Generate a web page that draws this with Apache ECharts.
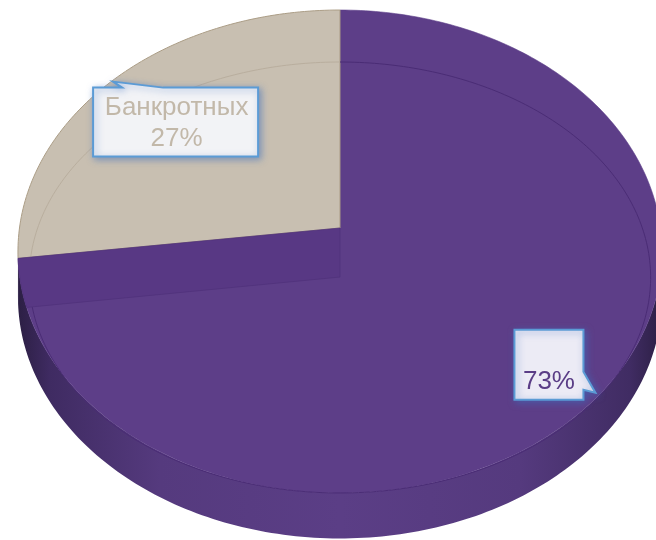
<!DOCTYPE html>
<html><head><meta charset="utf-8">
<script src="https://cdn.jsdelivr.net/npm/echarts@6/dist/echarts.min.js"></script>
<style>html,body{margin:0;padding:0;background:#fff}#c{width:656px;height:540px}</style>
</head><body><div id="c"></div><script>
// ---- data ----
const categories = ['Небанкротных', 'Банкротных'];
const values = [73, 27];
const showName = [false, true];

// ---- layout / style ----
const topColors = ['#5d3e88', '#c8bfb1'];
const edgeColors = ['#5d3e88', '#ab9d86'];
const innerColors = ['#4a2c75', '#b9ae9e'];
const textColors = ['#5a3d86', '#c2b8a9'];
const boxFills = ['#ecebf5', '#f2f3f6'];

const chart = echarts.init(document.getElementById('c'), null, {renderer: 'canvas'});
const total = values.reduce((a, b) => a + b, 0);
const starts = [], ends = [];
let acc = 0;
values.forEach(v => { starts.push(acc / total * 360); acc += v; ends.push(acc / total * 360); });

const PERSP = 0.0973;
function proj(r, ang, h) {
  const t = ang * Math.PI / 180;
  const u = r * Math.sin(t), v = r * Math.cos(t);
  const d = 1 + PERSP * v;
  return [u / d, v / d - (h || 0)];
}
const SIDE = 0.19, WALL = 0.205;
const VIS1 = Math.acos(-PERSP) * 180 / Math.PI, VIS2 = 360 - VIS1;
function arc(a1, a2, r, h, api, xf) {
  const pts = [];
  const n = Math.max(2, Math.ceil(Math.abs(a2 - a1)));
  for (let i = 0; i <= n; i++) {
    const a = a1 + (a2 - a1) * i / n;
    let p = proj(r, a, h);
    if (xf) p = xf(p);
    pts.push(api.coord(p));
  }
  return pts;
}
const innerXf = p => [p[0], p[1] * 0.9253 - 0.1223];
const seriesData = values.map((v, i) => [i, v]);
const FONT = '26px "Liberation Sans", Arial, sans-serif';

const base = {type: 'custom', coordinateSystem: 'cartesian2d', data: seriesData, silent: true, animation: false, encode: {x: -1, y: -1}};

const option = {
  animation: false,
  grid: {left: 0, right: 0, top: 0, bottom: 0},
  xAxis: {type: 'value', min: -1.0608, max: 0.986, show: false},
  yAxis: {type: 'value', min: -1.3043, max: 0.9532, show: false},
  series: [
    Object.assign({}, base, {z: 1, renderItem(params, api) {
      const i = params.dataIndex;
      const s = Math.max(starts[i], VIS1), e = Math.min(ends[i], VIS2);
      if (e - s < 0.01) return null;
      const pts = arc(s, e, 1, 0, api).concat(arc(e, s, 1, SIDE, api));
      const xL = api.coord([-1.005, 0])[0], xR = api.coord([1.005, 0])[0];
      return {type: 'polygon', shape: {points: pts}, style: {
        fill: {type: 'linear', x: xL, y: 0, x2: xR, y2: 0, global: true, colorStops: [
          {offset: 0, color: '#2c1f44'}, {offset: 0.05, color: '#3f2b62'}, {offset: 0.22, color: '#553a7e'},
          {offset: 0.5, color: '#5b3e86'}, {offset: 0.78, color: '#553a7e'}, {offset: 0.95, color: '#402c63'},
          {offset: 1, color: '#2c1f44'}]},
        stroke: null}};
    }}),
    Object.assign({}, base, {z: 2, renderItem(params, api) {
      const i = params.dataIndex;
      const pts = [api.coord(proj(0, 0, 0))].concat(arc(starts[i], ends[i], 1, 0, api));
      return {type: 'polygon', shape: {points: pts}, style: {fill: topColors[i], stroke: edgeColors[i], lineWidth: i === 1 ? 1 : 0.6}};
    }}),
    Object.assign({}, base, {z: 3, renderItem(params, api) {
      const i = params.dataIndex;
      const pts = arc(starts[i], ends[i], 0.965, 0, api, innerXf);
      return {type: 'polyline', shape: {points: pts}, style: {fill: null, stroke: innerColors[i], lineWidth: 1}};
    }}),
    Object.assign({}, base, {z: 4, renderItem(params, api) {
      const i = params.dataIndex;
      if (i !== 0) return null;
      const aEnd = ends[i];
      const target = proj(1, aEnd, 0)[1] - WALL;
      let lo = Math.max(180, aEnd - 90), hi = aEnd;
      for (let k = 0; k < 40; k++) {
        const mid = (lo + hi) / 2;
        if (proj(1, mid, 0)[1] > target) hi = mid; else lo = mid;
      }
      const pts = [api.coord(proj(0, 0, 0))].concat(arc(aEnd, lo, 1, 0, api)).concat([api.coord(proj(0, 0, WALL))]);
      return {type: 'polygon', shape: {points: pts}, style: {fill: '#583884', stroke: '#4f307a', lineWidth: 0.7}};
    }}),
    Object.assign({}, base, {z: 5, renderItem(params, api) {
      const i = params.dataIndex;
      const mid = (starts[i] + ends[i]) / 2;
      const pct = Math.round(values[i] / total * 100) + '%';
      const text = showName[i] ? categories[i] + '\n' + pct : pct;
      const shadow = {shadowBlur: 7, shadowColor: 'rgba(60,110,190,0.55)', shadowOffsetX: 2, shadowOffsetY: 2};
      if (i === 1) {
        const [ax, ay] = api.coord(proj(0.6, mid, 0));
        const L = ax - 108, T = ay - 49, R = ax + 57, B = ay + 20;
        const poly = [[L, T], [L + 29, T], [L + 20, T - 6], [L + 70, T], [R, T], [R, B], [L, B]];
        return {type: 'group', children: [
          {type: 'polygon', shape: {points: poly}, style: Object.assign({fill: boxFills[i], stroke: '#5b9bd5', lineWidth: 2}, shadow)},
          {type: 'text', x: (L + R) / 2 + 1, y: (T + B) / 2 + 1, style: {text: text, fill: textColors[i], font: FONT, align: 'center', verticalAlign: 'middle', lineHeight: 31}}
        ]};
      } else {
        const [ax, ay] = api.coord(proj(0.75, mid, 0));
        const L = ax - 15, T = ay - 23, R = ax + 54, B = ay + 47;
        const poly = [[L, T], [R, T], [R, T + 42], [R + 12, T + 63], [R, T + 60], [R, B], [L, B]];
        return {type: 'group', children: [
          {type: 'polygon', shape: {points: poly}, style: Object.assign({fill: boxFills[i], stroke: '#5b9bd5', lineWidth: 2}, shadow)},
          {type: 'text', x: (L + R) / 2, y: (T + B) / 2 + 17, style: {text: text, fill: textColors[i], font: FONT, align: 'center', verticalAlign: 'middle'}}
        ]};
      }
    }})
  ]
};
chart.setOption(option);
</script></body></html>
